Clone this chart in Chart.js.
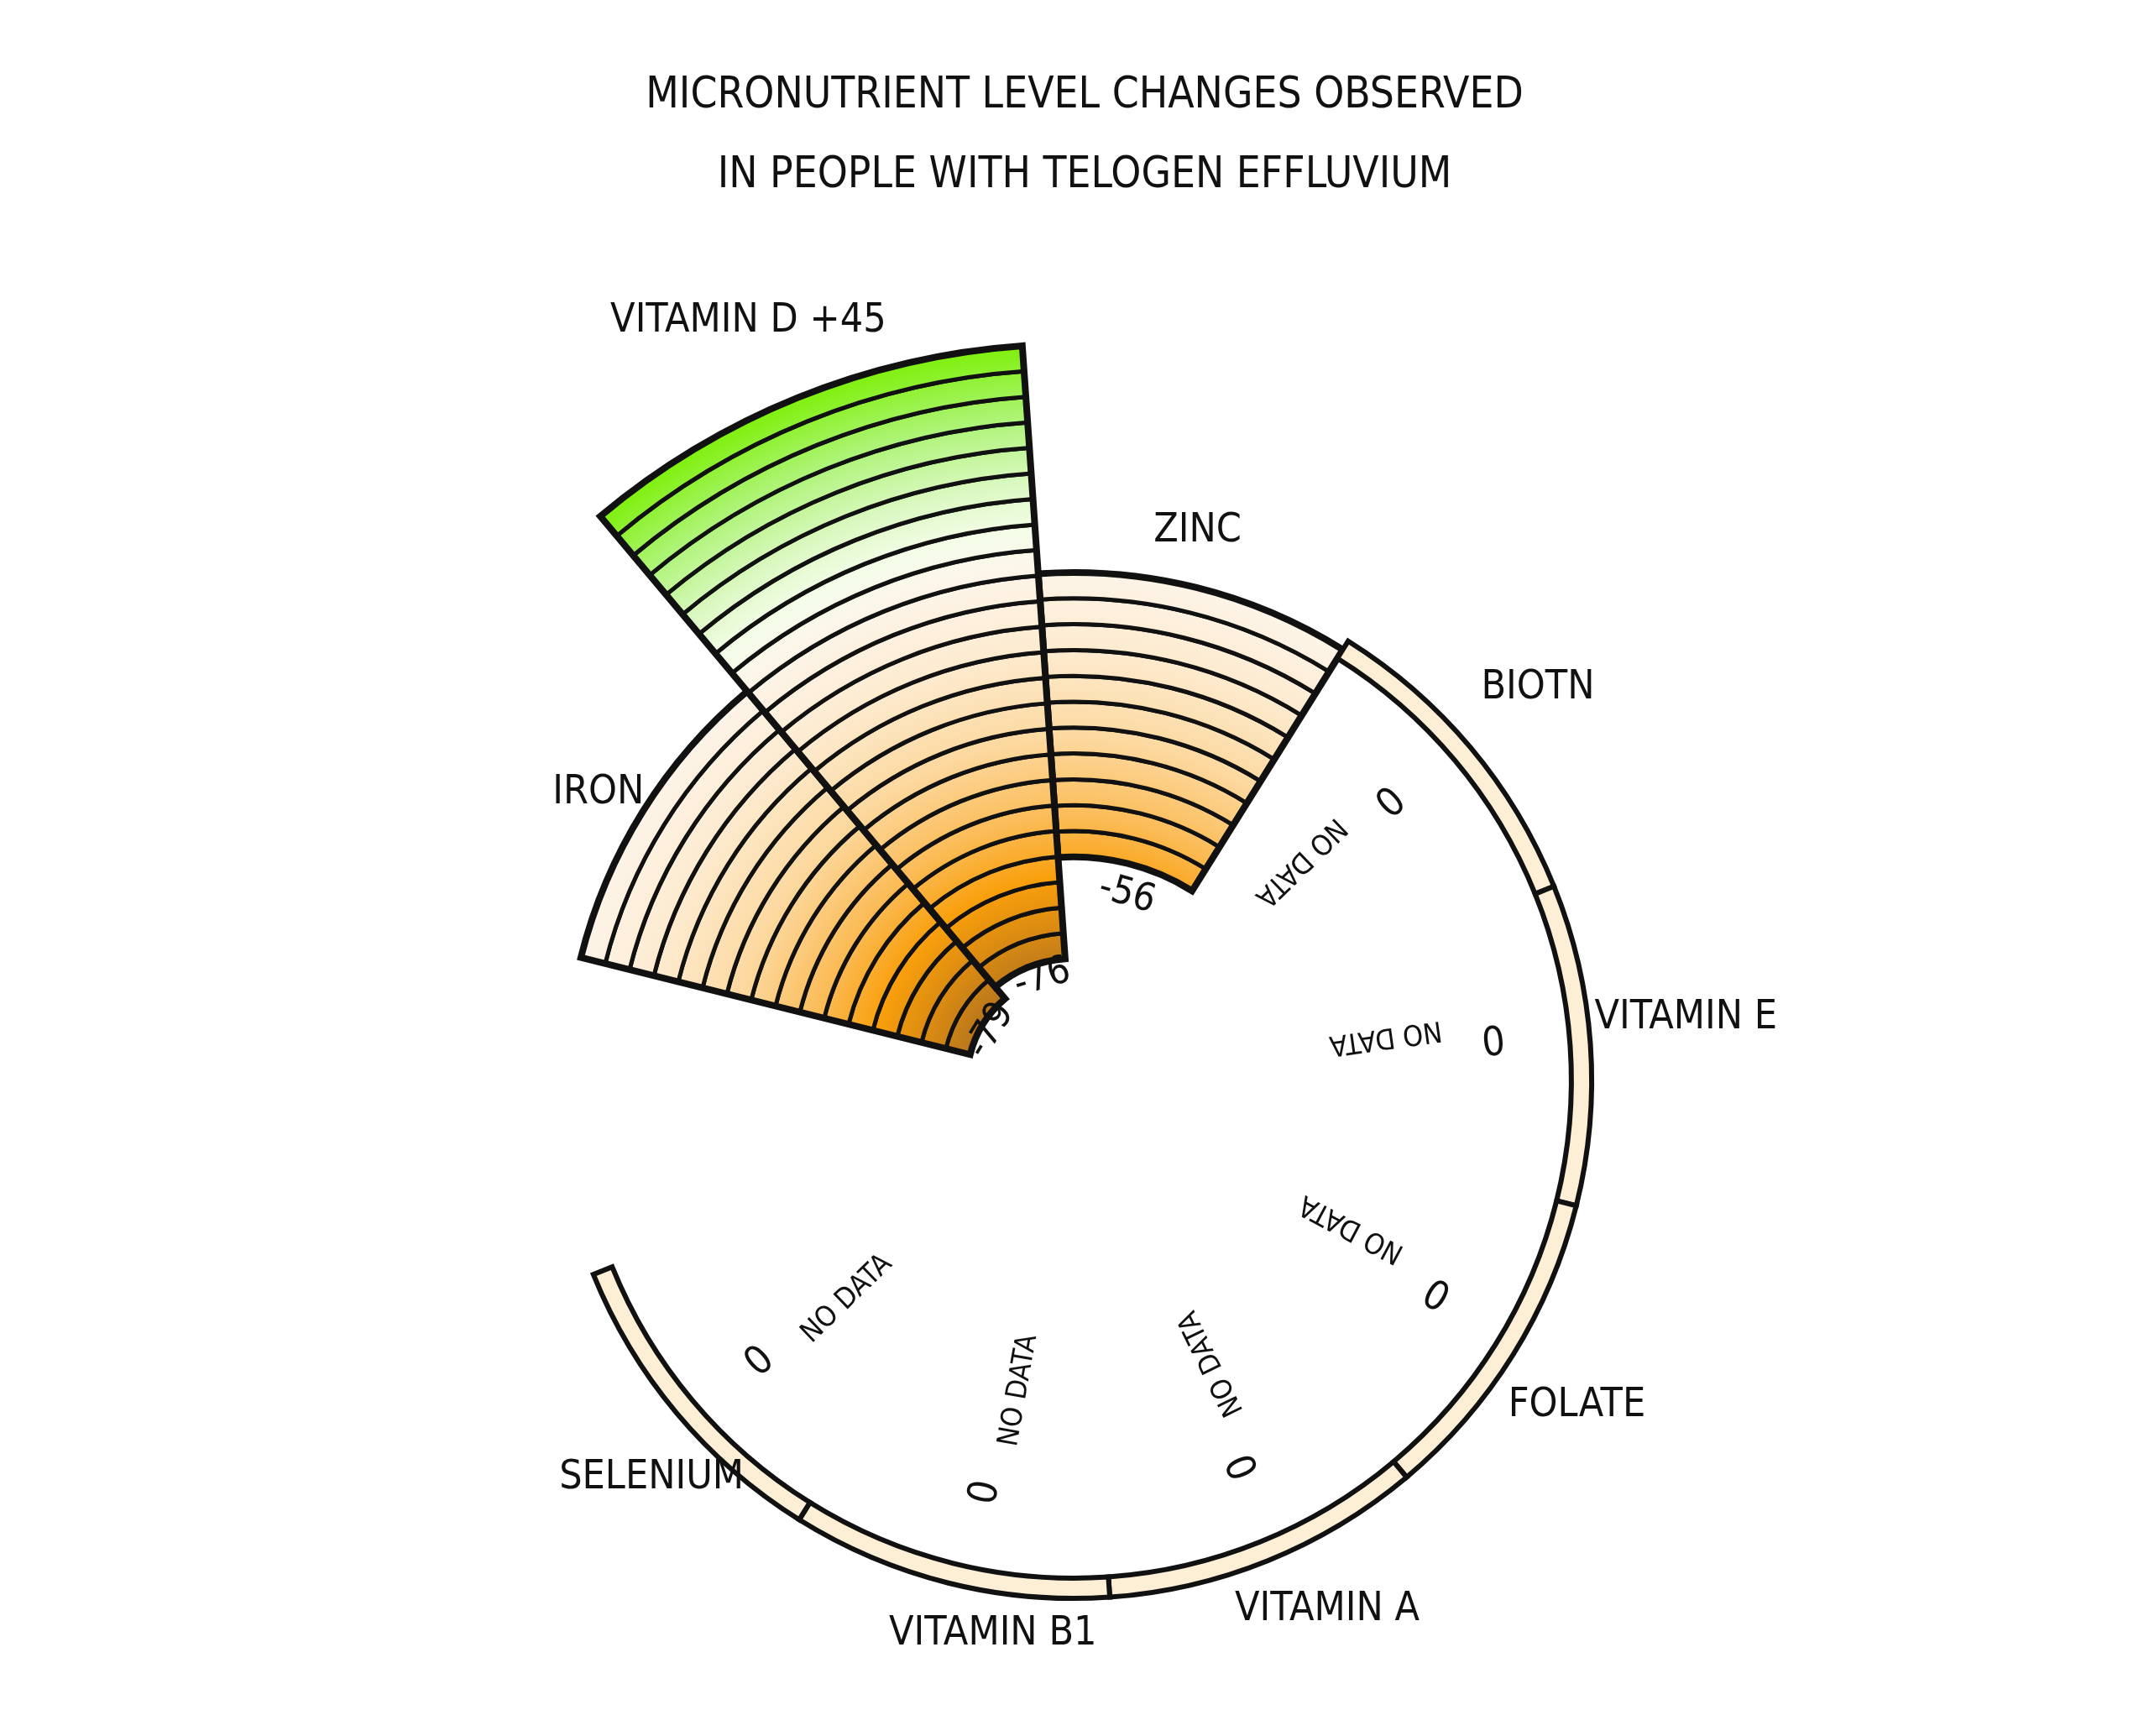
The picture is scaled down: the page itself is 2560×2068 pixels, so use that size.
<!DOCTYPE html>
<html><head><meta charset="utf-8">
<script src="https://cdn.jsdelivr.net/npm/chart.js@4"></script>
<style>html,body{margin:0;padding:0;background:#fff;}#c{display:block;}</style>
</head><body>
<canvas id="c" width="2560" height="2068"></canvas>
<script>
const categories = ["IRON","VITAMIN D +45","ZINC","BIOTN","VITAMIN E","FOLATE","VITAMIN A","VITAMIN B1","SELENIUM",""];
const lows  = [-79,-76,-56,0,0,0,0,0,0,null];
const highs = [0,45,0,0,0,0,0,0,0,null];
const valueLabels = ["-79","-76","-56","0","0","0","0","0","0",""];
const titleLines = ["MICRONUTRIENT LEVEL CHANGES OBSERVED","IN PEOPLE WITH TELOGEN EFFLUVIUM"];

const FONT = '"Liberation Sans Narrow","DejaVu Sans Condensed","Liberation Sans",sans-serif';
const labelPos = [[-58.8,662],[-23.2,984],[12.7,671],[49.8,724],[84.2,733],[122.9,714],[154.4,699],[188.3,667],[226.7,691]];
const valPos = {0:[-81,-59],1:[-79,-17],2:[-62,16]};

const stops = [[-100,'#a86a18'],[-79,'#b8761c'],[-70,'#d98a12'],[-60,'#f99f0c'],[-48,'#fbbc58'],[-33,'#fcd89e'],[-15,'#fdebd0'],[0,'#fdf4e8'],[8,'#f5fdea'],[18,'#daf8c0'],[30,'#b0f47c'],[45,'#7ef00c']];

const drawPlugin = {
  id:'bands',
  afterDatasetsDraw(chart){
    const ctx = chart.ctx, s = chart.scales.r;
    const cx = s.xCenter, cy = s.yCenter;
    const R = v => s.getDistanceFromCenterForValue(v);
    const meta = chart.getDatasetMeta(0);
    const g = ctx.createRadialGradient(cx,cy,0,cx,cy,R(45));
    stops.forEach(([v,c]) => g.addColorStop(Math.max(0,Math.min(1,(R(v))/R(45))), c));
    const sector = (r0,r1,a0,a1) => { ctx.beginPath(); ctx.arc(cx,cy,r1,a0,a1); ctx.arc(cx,cy,r0,a1,a0,true); ctx.closePath(); };
    const order = [0,2,3,4,5,6,7,8,1];
    ctx.save(); ctx.lineJoin='miter';
    order.forEach(i => {
      if (lows[i]===null) return;
      const a0 = meta.data[i].startAngle, a1 = meta.data[i].endAngle;
      const lo = lows[i], hi = highs[i];
      if (hi - lo === 0) {
        sector(R(-2),R(2),a0,a1);
        ctx.fillStyle='#fdefd6'; ctx.fill();
        ctx.lineWidth=6; ctx.strokeStyle='#111'; ctx.stroke();
        return;
      }
      const n = Math.round((hi-lo)/5);
      for (let k=0;k<n;k++){
        const v0 = lo+(hi-lo)*k/n, v1 = lo+(hi-lo)*(k+1)/n;
        sector(R(v0),R(v1),a0,a1);
        ctx.fillStyle=g; ctx.fill();
        ctx.lineWidth=5; ctx.strokeStyle='#111'; ctx.stroke();
      }
      sector(R(lo),R(hi),a0,a1);
      ctx.lineWidth=8; ctx.stroke();
    });
    ctx.fillStyle='#111'; ctx.textAlign='center'; ctx.textBaseline='middle';
    const polar = (deg, r) => { const p=(deg-90)*Math.PI/180; return [cx+r*Math.cos(p), cy+r*Math.sin(p), p]; };
    categories.forEach((c,i) => {
      if (!c) return;
      const [x,y] = polar(labelPos[i][0], labelPos[i][1]);
      ctx.font = '48px '+FONT; ctx.fillText(c,x,y);
      const mid = ((meta.data[i].startAngle+meta.data[i].endAngle)/2)*180/Math.PI + 90;
      if (highs[i]-lows[i]===0) {
        let [x1,y1,p1] = polar(mid-4, R(-38));
        ctx.save(); ctx.translate(x1,y1); ctx.rotate(p1+Math.PI); ctx.font='34px '+FONT; ctx.fillText('NO DATA',0,0); ctx.restore();
        let [x2,y2,p2] = polar(mid-2, R(-17));
        ctx.save(); ctx.translate(x2,y2); ctx.rotate(p2+Math.PI); ctx.font='48px '+FONT; ctx.fillText(valueLabels[i],0,0); ctx.restore();
      } else {
        const vp = valPos[i];
        const [x3,y3] = polar(vp[1], R(vp[0]));
        ctx.save(); ctx.translate(x3,y3); ctx.rotate(vp[1]*Math.PI/180); ctx.font='46px '+FONT; ctx.fillText(valueLabels[i],0,0); ctx.restore();
      }
    });
    ctx.font = '51px '+FONT;
    titleLines.forEach((t,k)=>ctx.fillText(t, 1292, 115+95*k));
    ctx.restore();
  }
};

new Chart(document.getElementById('c'), {
  type:'polarArea',
  data:{ labels: categories, datasets:[{ data: categories.map((c,i)=> lows[i]===null?0:1), backgroundColor:'rgba(0,0,0,0)', borderWidth:0 }]},
  options:{
    responsive:false, animation:false, startAngle:-76,
    layout:{ padding:{ left:674, right:676, top:682, bottom:176 } },
    plugins:{ legend:{display:false}, tooltip:{enabled:false}, title:{display:false} },
    scales:{ r:{ min:-100, max:0, startAngle:-76, ticks:{display:false}, grid:{display:false}, angleLines:{display:false}, pointLabels:{display:false} } }
  },
  plugins:[drawPlugin]
});
</script>
</body></html>
